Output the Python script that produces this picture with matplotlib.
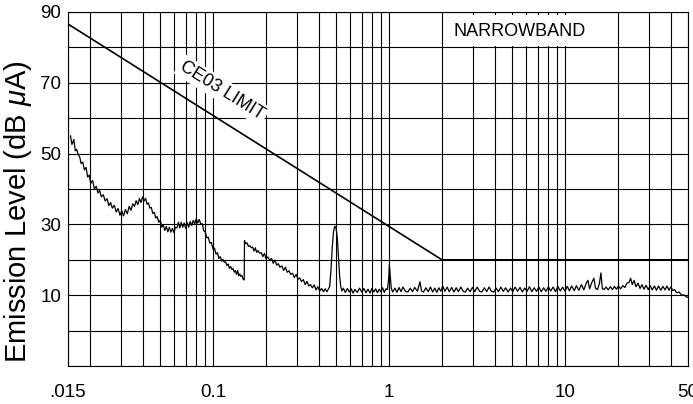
import matplotlib
matplotlib.use("Agg")
import matplotlib.pyplot as plt
from matplotlib.patches import Rectangle
from matplotlib.ticker import FixedLocator, NullFormatter

plt.rcParams['font.family'] = ['Liberation Sans', 'DejaVu Sans']
plt.rcParams['mathtext.fontset'] = 'custom'
plt.rcParams['mathtext.rm'] = 'Liberation Sans'
plt.rcParams['mathtext.it'] = 'Liberation Sans:italic'

# CE03 narrowband limit (MHz, dB uA)
limit_freq = [0.015, 2.0, 50.0]
limit_level = [86.6, 20.0, 20.0]

emis_freq = [
    0.0155, 0.0158, 0.0162, 0.0165, 0.0168, 0.0172, 0.0175, 0.0178, 0.0182, 0.0186,
    0.019, 0.0194, 0.0198, 0.0202, 0.0207, 0.0212, 0.0217, 0.0222, 0.0227, 0.0232,
    0.0238, 0.0244, 0.025, 0.0256, 0.0262, 0.0268, 0.0275, 0.0282, 0.0289, 0.0296,
    0.0303, 0.031, 0.0318, 0.0326, 0.0334, 0.0342, 0.035, 0.0358, 0.0366, 0.0374,
    0.0382, 0.039, 0.0398, 0.0406, 0.0414, 0.0422, 0.043, 0.0438, 0.0446, 0.0455,
    0.0464, 0.0473, 0.0482, 0.0492, 0.0502, 0.0512, 0.0522, 0.0532, 0.0543, 0.0554,
    0.0565, 0.0576, 0.0588, 0.06, 0.0612, 0.0624, 0.0636, 0.0648, 0.066, 0.0673,
    0.0686, 0.07, 0.0714, 0.0728, 0.0742, 0.0757, 0.0772, 0.0787, 0.0803, 0.0819,
    0.0835, 0.0852, 0.0869, 0.0886, 0.0904, 0.0922, 0.094, 0.096, 0.098, 0.1,
    0.102, 0.104, 0.106, 0.108, 0.11, 0.112, 0.114, 0.116, 0.118, 0.12,
    0.122, 0.124, 0.126, 0.128, 0.13, 0.132, 0.134, 0.136, 0.138, 0.14,
    0.142, 0.144, 0.146, 0.148, 0.1505, 0.151, 0.153, 0.156, 0.159, 0.162,
    0.165, 0.168, 0.171, 0.174, 0.177, 0.18, 0.184, 0.188, 0.192, 0.196,
    0.2, 0.205, 0.21, 0.215, 0.22, 0.225, 0.23, 0.235, 0.24, 0.246,
    0.252, 0.258, 0.264, 0.27, 0.276, 0.283, 0.29, 0.297, 0.304, 0.311,
    0.318, 0.326, 0.334, 0.342, 0.35, 0.358, 0.367, 0.376, 0.385, 0.394,
    0.404, 0.414, 0.424, 0.434, 0.444, 0.452, 0.46, 0.468, 0.476, 0.484,
    0.492, 0.5, 0.508, 0.516, 0.524, 0.532, 0.54, 0.55, 0.565, 0.58,
    0.595, 0.61, 0.625, 0.64, 0.66, 0.68, 0.7, 0.72, 0.74, 0.76,
    0.78, 0.8, 0.82, 0.84, 0.86, 0.88, 0.9, 0.92, 0.94, 0.96,
    0.98, 0.995, 1.005, 1.015, 1.03, 1.05, 1.08, 1.11, 1.14, 1.17,
    1.2, 1.24, 1.28, 1.32, 1.36, 1.4, 1.45, 1.5, 1.53, 1.57,
    1.62, 1.67, 1.72, 1.77, 1.82, 1.87, 1.92, 1.97, 2.02, 2.08,
    2.14, 2.2, 2.27, 2.34, 2.41, 2.48, 2.56, 2.64, 2.72, 2.8,
    2.89, 2.98, 3.07, 3.17, 3.27, 3.37, 3.48, 3.59, 3.7, 3.82,
    3.94, 4.06, 4.19, 4.32, 4.46, 4.6, 4.75, 4.9, 5.05, 5.21,
    5.38, 5.55, 5.72, 5.9, 6.09, 6.28, 6.48, 6.68, 6.89, 7.11,
    7.33, 7.56, 7.8, 8.05, 8.3, 8.56, 8.83, 9.11, 9.4, 9.7,
    10.0, 10.3, 10.6, 10.9, 11.3, 11.6, 12.0, 12.4, 12.8, 13.2,
    13.5, 13.8, 14.2, 14.6, 14.9, 15.3, 15.7, 16.0, 16.3, 16.7,
    17.1, 17.6, 18.1, 18.6, 19.1, 19.6, 20.1, 20.7, 21.3, 21.9,
    22.5, 23.1, 23.6, 24.1, 24.7, 25.3, 26.0, 26.7, 27.4, 28.1,
    28.9, 29.7, 30.5, 31.3, 32.2, 33.1, 34.0, 35.0, 36.0, 37.0,
    38.0, 39.0, 40.0, 41.0, 42.0, 43.0, 44.5, 46.0, 47.5, 49.0,
    50.0,
]
emis_level = [
    55.0, 52.6, 54.0, 50.8, 51.2, 49.6, 49.0, 47.2, 47.6, 45.4,
    46.1, 43.4, 43.9, 41.6, 42.4, 40.0, 40.8, 38.9, 39.6, 37.8,
    38.4, 36.6, 37.3, 35.3, 36.2, 34.6, 35.4, 33.5, 34.5, 32.6,
    33.9, 32.4, 34.2, 33.0, 35.1, 34.0, 35.8, 35.1, 36.7, 35.6,
    37.3, 36.2, 37.8, 36.6, 37.4, 35.7, 36.1, 34.6, 34.8, 33.1,
    33.4, 31.8, 32.2, 30.6, 31.2, 29.2, 29.9, 28.3, 29.4, 27.9,
    29.2, 27.8, 28.9, 27.7, 29.2, 29.0, 30.6, 29.0, 30.6, 29.2,
    30.4, 28.9, 30.5, 29.2, 30.8, 29.7, 31.1, 30.2, 31.6, 30.4,
    31.4, 30.1, 30.2, 28.2, 27.9, 26.2, 26.4, 24.7, 24.9, 23.0,
    23.3, 21.6, 22.0, 20.4, 20.9, 19.6, 20.1, 19.3, 19.4, 18.4,
    18.8, 17.6, 18.1, 17.3, 17.5, 16.5, 17.0, 15.9, 17.0, 15.5,
    16.0, 15.3, 15.6, 14.6, 14.3, 25.4, 24.6, 24.8, 23.8, 24.0,
    23.4, 23.6, 22.5, 23.4, 22.1, 22.6, 21.9, 22.0, 20.9, 21.8,
    20.3, 20.8, 19.9, 20.4, 19.0, 19.9, 18.5, 18.9, 17.9, 18.3,
    17.0, 17.9, 16.5, 16.9, 15.9, 16.2, 15.0, 15.9, 14.5, 14.9,
    13.9, 14.4, 13.0, 13.9, 12.6, 13.0, 12.1, 12.9, 11.5, 12.4,
    11.2, 11.9, 11.0, 11.8, 11.0, 11.7, 12.4, 17.0, 23.5, 28.0,
    29.5, 29.0, 26.5, 21.0, 15.5, 12.4, 11.2, 12.0, 10.8, 11.9,
    10.9, 11.8, 10.6, 11.6, 10.8, 12.0, 10.9, 11.9, 10.7, 11.7,
    10.6, 11.9, 10.9, 11.8, 10.7, 11.7, 10.9, 12.1, 10.8, 11.8,
    11.6, 14.5, 18.6, 16.0, 12.0, 10.9, 12.0, 10.8, 12.2, 11.0,
    12.3, 11.1, 10.9, 12.0, 11.0, 12.2, 11.1, 13.8, 11.2, 10.9,
    12.1, 11.0, 12.3, 10.9, 12.0, 10.8, 12.1, 11.1, 12.6, 11.1,
    12.3, 11.0, 12.2, 10.9, 12.1, 11.0, 12.3, 11.1, 10.9, 12.0,
    11.0, 12.2, 11.0, 12.3, 11.1, 10.9, 12.1, 11.0, 12.3, 11.1,
    10.9, 12.0, 11.0, 12.3, 11.1, 12.1, 10.9, 12.0, 11.0, 12.3,
    11.1, 12.2, 10.9, 12.0, 11.1, 12.4, 11.0, 12.1, 11.1, 12.3,
    11.0, 12.1, 11.1, 12.4, 11.2, 12.3, 11.0, 12.5, 11.2, 12.3,
    11.1, 12.5, 11.2, 12.6, 11.3, 12.7, 11.4, 13.0, 11.5, 13.4,
    14.2, 11.8, 13.6, 14.8, 12.0, 11.6, 13.4, 16.3, 11.9, 11.6,
    12.3, 11.5, 12.4, 11.6, 12.5, 11.7, 12.6, 11.8, 12.7, 12.2,
    13.4, 13.6, 14.8, 13.0, 14.2, 12.4, 13.4, 11.9, 13.0, 11.7,
    12.8, 11.6, 12.7, 11.5, 12.6, 11.4, 12.6, 11.4, 12.5, 11.5,
    12.6, 11.4, 12.4, 11.3, 11.6, 10.7, 10.9, 10.0, 10.1, 9.5,
    9.4,
]

x_ticks = [0.015, 0.1, 1, 10, 50]
x_tick_labels = ['.015', '0.1', '1', '10', '50']
x_grid = [0.02, 0.03, 0.04, 0.05, 0.06, 0.07, 0.08, 0.09,
          0.2, 0.3, 0.4, 0.5, 0.6, 0.7, 0.8, 0.9,
          2, 3, 4, 5, 6, 7, 8, 9, 20, 30, 40]
y_ticks = [10, 30, 50, 70, 90]
y_grid = [-10, 0, 20, 40, 60, 80]

fig = plt.figure(figsize=(6.93, 4.04), dpi=100)
ax = fig.add_axes([0.0981, 0.094, 0.8947, 0.8763])

ax.set_xscale('log')
ax.set_xlim(0.015, 50)
ax.set_ylim(-10, 90)

ax.set_xticks(x_ticks)
ax.set_xticklabels(x_tick_labels)
ax.xaxis.set_minor_locator(FixedLocator(x_grid))
ax.xaxis.set_minor_formatter(NullFormatter())
ax.set_yticks(y_ticks)
ax.set_yticks(y_grid, minor=True)
ax.tick_params(which='both', length=0, labelsize=13.5)
ax.tick_params(axis='x', pad=13)
ax.tick_params(axis='y', pad=5)

ax.grid(True, which='both', color='black', linewidth=0.8, zorder=1)
ax.set_axisbelow(True)
for sp in ax.spines.values():
    sp.set_linewidth(0.8)

ax.set_ylabel(r'Emission Level (dB $\mu$A)', fontsize=21)
ax.yaxis.set_label_coords(-0.055, 0.435)

# NARROWBAND label in a white box between the 2 and 20 MHz grid lines
ax.add_patch(Rectangle((2.05, 80.3), 19.5 - 2.05, 8.9, facecolor='white',
                       edgecolor='none', zorder=2))
ax.text(5.55, 84.4, 'NARROWBAND', ha='center', va='center', fontsize=13, zorder=3)

ax.plot(limit_freq, limit_level, color='black', linewidth=1.2, zorder=4)
ax.text(0.1129, 67.8, 'CE03 LIMIT', ha='center', va='center', rotation=-32,
        rotation_mode='anchor', fontsize=13, zorder=3,
        bbox=dict(boxstyle='square,pad=0.15', fc='white', ec='none'))

ax.plot(emis_freq, emis_level, color='black', linewidth=0.9, zorder=5)

fig.savefig('out.png', dpi=100)
